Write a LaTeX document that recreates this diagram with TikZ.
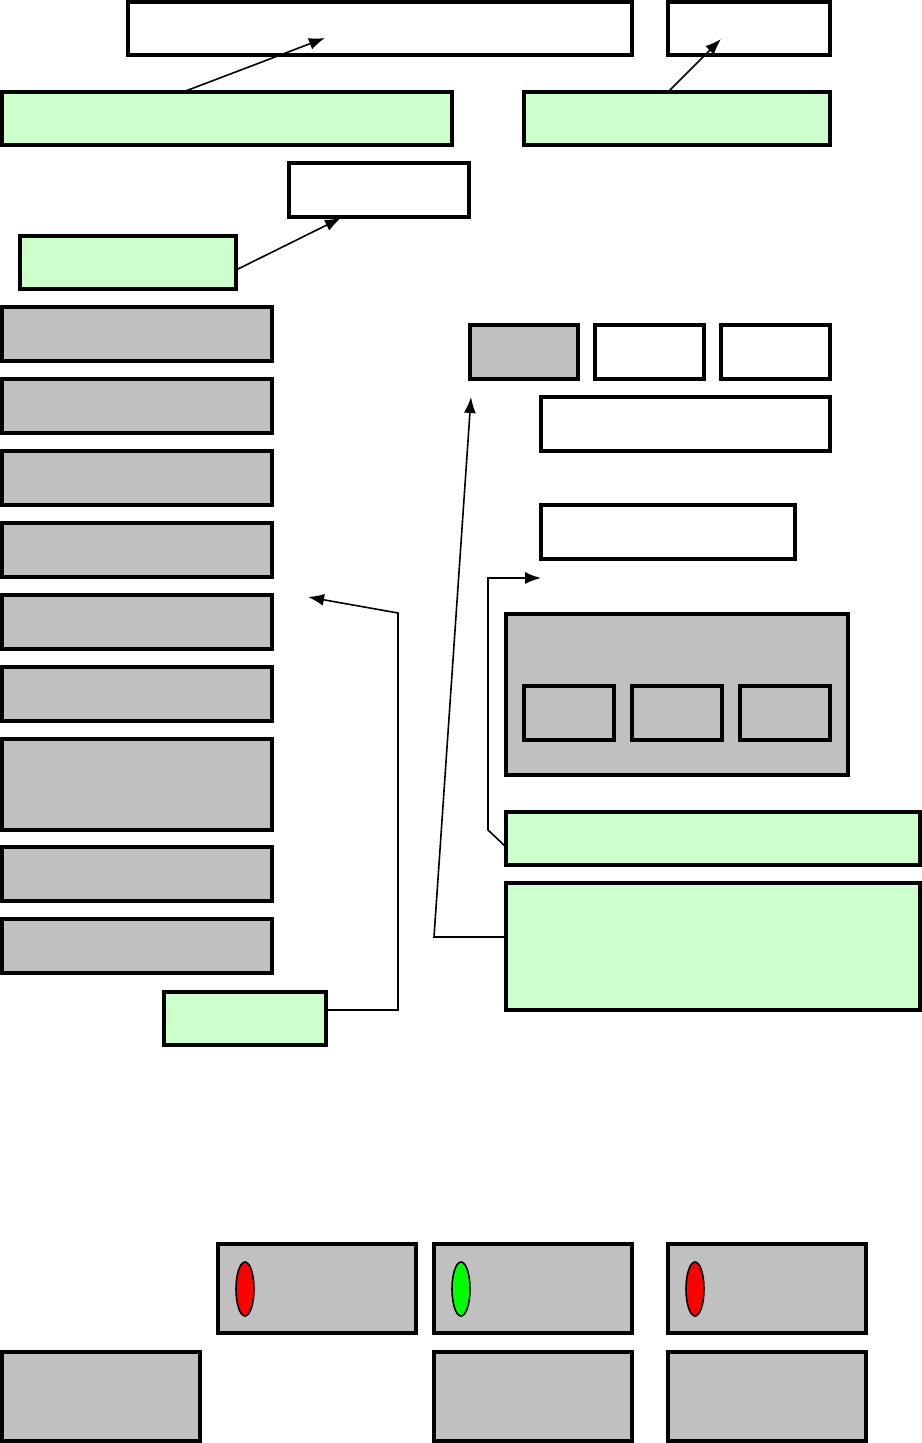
\documentclass[tikz,border=0pt]{standalone}
\usetikzlibrary{arrows.meta,shadows,shapes.geometric}
\definecolor{lgreen}{HTML}{CCFFCC}
\definecolor{boxgray}{HTML}{C0C0C0}
\newcommand{\rbox}[6]{\node[#2,minimum width={(#5-#3)*0.5pt},minimum height={(#6-#4)*0.5pt}] (#1) at ({(#3+#5)/2},{(#4+#6)/2}) {};}
\begin{document}
\begin{tikzpicture}[x=0.5pt,y=-0.5pt,
  base/.style={draw=black,line width=1.6pt,inner sep=0pt,outer sep=0pt,rectangle},
  shad/.style={drop shadow={shadow xshift=0.9pt,shadow yshift=-0.9pt,fill=black!70,opacity=1}},
  wbox/.style={base,fill=white,shad},
  gbox/.style={base,fill=boxgray,shad},
  pbox/.style={base,fill=boxgray},
  note/.style={base,fill=lgreen},
  conn/.style={draw=black,line width=0.8pt,-{Latex[length=8pt,width=6pt]}},
  lamp/.style={draw=black,line width=0.8pt,ellipse,inner sep=0pt,minimum width=9pt,minimum height=27pt}]
\useasboundingbox (0,0) rectangle (921,1443);
% top row
\rbox{t1}{wbox}{128}{2}{632}{55}
\rbox{t2}{wbox}{668}{2}{830}{55}
\rbox{g1}{note}{2}{92}{452}{145}
\rbox{g2}{note}{524}{92}{830}{145}
\rbox{t3}{wbox}{289}{163}{469}{217}
\rbox{g3}{note}{20}{236}{236}{289}
% left column
\rbox{l1}{gbox}{2}{307}{272}{361}
\rbox{l2}{gbox}{2}{379}{272}{433}
\rbox{l3}{gbox}{2}{451}{272}{505}
\rbox{l4}{gbox}{2}{523}{272}{577}
\rbox{l5}{gbox}{2}{595}{272}{649}
\rbox{l6}{gbox}{2}{667}{272}{721}
\rbox{l7}{gbox}{2}{739}{272}{830}
\rbox{l8}{gbox}{2}{847}{272}{901}
\rbox{l9}{gbox}{2}{919}{272}{973}
\rbox{g4}{note}{164}{992}{326}{1045}
% right group
\rbox{r1}{gbox}{470}{325}{578}{379}
\rbox{r2}{wbox}{595}{325}{704}{379}
\rbox{r3}{wbox}{721}{325}{830}{379}
\rbox{r4}{wbox}{541}{397}{830}{451}
\rbox{r5}{wbox}{541}{505}{795}{559}
\rbox{c0}{pbox}{506}{614}{848}{775}
\rbox{c1}{gbox}{524}{686}{614}{740}
\rbox{c2}{gbox}{632}{686}{722}{740}
\rbox{c3}{gbox}{740}{686}{830}{740}
\rbox{g5}{note}{506}{812}{920}{865}
\rbox{g6}{note}{506}{883}{920}{1010}
% bottom
\rbox{b1}{pbox}{218}{1244}{416}{1333}
\rbox{b2}{pbox}{434}{1244}{632}{1333}
\rbox{b3}{pbox}{668}{1244}{866}{1333}
\rbox{b4}{pbox}{2}{1352}{200}{1441}
\rbox{b5}{pbox}{434}{1352}{632}{1441}
\rbox{b6}{pbox}{668}{1352}{866}{1441}
\node[lamp,fill=red] (e1) at (245,1289) {};
\node[lamp,fill=green] (e2) at (461,1289) {};
\node[lamp,fill=red] (e3) at (695,1289) {};
% connector coordinates
\coordinate (a1) at (325,38);
\coordinate (s1) at (183,0);
\coordinate (a2) at (721,39);
\coordinate (s2) at (668,0);
\coordinate (a3) at (341,218);
\coordinate (s3) at (0,270);
\coordinate (a4) at (308,597);
\coordinate (s4) at (0,1010);
\coordinate (k4) at (398,613);
\coordinate (a5) at (541,578);
\coordinate (k5a) at (488,830);
\coordinate (a6) at (471,397);
\coordinate (k6) at (434,937);
\coordinate (s6) at (0,937);
\coordinate (s5) at (0,847);
\draw[conn] (g1.north -| s1) -- (a1);
\draw[conn] (g2.north -| s2) -- (a2);
\draw[conn] (g3.east |- s3) -- (a3);
\draw[conn] (g4.east |- s4) -- (k4 |- s4) -- (k4) -- (a4);
\draw[conn] (g5.west |- s5) -- (k5a) -- (k5a |- a5) -- (a5);
\draw[conn] (g6.west |- s6) -- (k6) -- (a6);
\end{tikzpicture}
\end{document}
